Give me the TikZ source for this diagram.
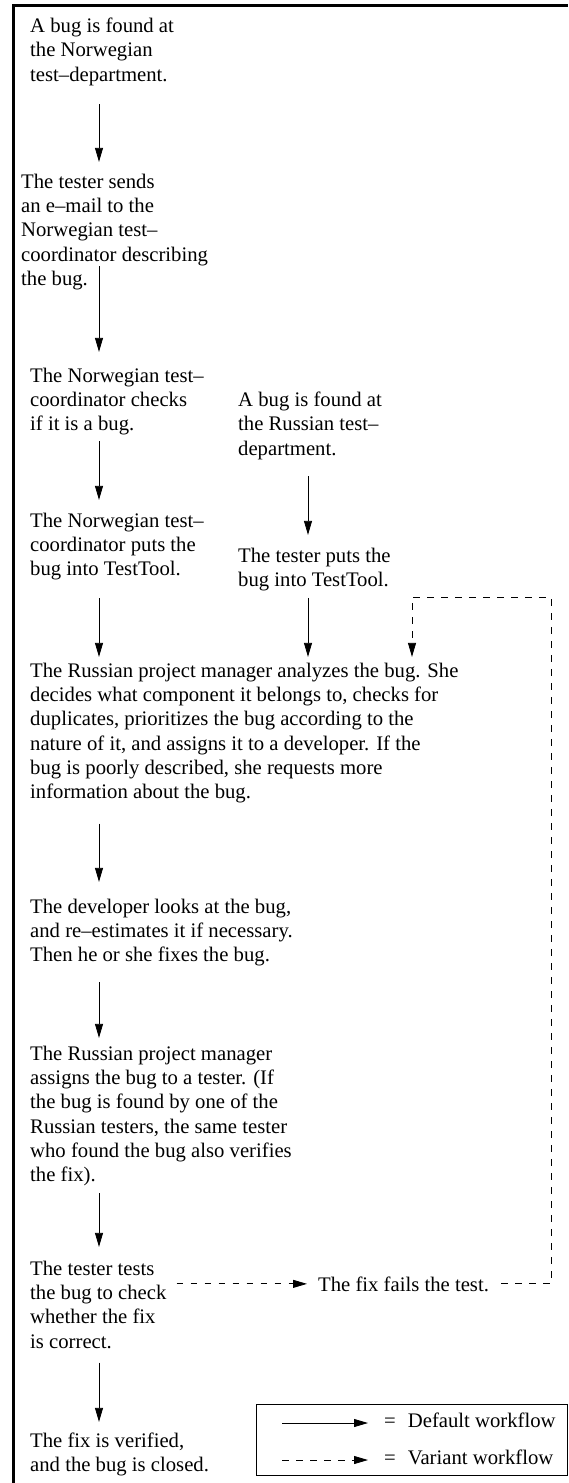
\documentclass[tikz,border=0pt]{standalone}
\usepackage{fontspec}
\setmainfont{Liberation Serif}
\usetikzlibrary{arrows.meta,calc}

\begin{document}
\begin{tikzpicture}[
  x=1pt, y=1pt,
  font=\fontsize{20.7}{24.2}\selectfont,
  txt/.style={anchor=north west, align=left, inner sep=0pt},
  line/.style={anchor=base west, inner sep=0pt},
  flow/.style={-{Triangle[length=14pt,width=8pt]}, line width=0.8pt},
  variant/.style={flow, dash pattern=on 6.5pt off 7.5pt},
  frame/.style={line width=3pt},
  legendbox/.style={draw, line width=0.8pt, inner sep=0pt, anchor=north west,
    minimum width=311pt, minimum height=71pt}
]
\useasboundingbox (0,0) rectangle (568,-1483);

\draw[frame] (13,-1483) -- (13,-5.5) -- (568,-5.5);

\coordinate (spine) at (99,0);
\coordinate (rspine) at (308,0);
\coordinate (drop) at (412,-597);
\coordinate (loopcorner) at (551,-597);

% Norwegian side
\node[txt] (nofound) at (30,-17.9) {A bug is found at\\the Norwegian\\test–department.};
\node[txt] (nomail) at (21,-173.9) {The tester sends\\an e–mail to the\\Norwegian test–\\coordinator describing\\the bug.};
\node[txt] (nocheck) at (30,-367.9) {The Norwegian test–\\coordinator checks\\if it is a bug.};
\node[txt] (noput) at (30,-512.9) {The Norwegian test–\\coordinator puts the\\bug into TestTool.};

% Russian side
\node[txt] (rufound) at (238,-391.9) {A bug is found at\\the Russian test–\\department.};
\node[txt] (ruput) at (238,-547.9) {The tester puts the\\bug into TestTool.};

% common workflow
\node[txt] (analyze) at (30,-662.9) {The Russian project manager analyzes the bug. She\\decides what component it belongs to, checks for\\duplicates, prioritizes the bug according to the\\nature of it, and assigns it to a developer. If the\\bug is poorly described, she requests more\\information about the bug.};
\node[txt] (develop) at (30,-898.9) {The developer looks at the bug,\\and re–estimates it if necessary.\\Then he or she fixes the bug.};
\node[txt] (assign) at (30,-1045.9) {The Russian project manager\\assigns the bug to a tester. (If\\the bug is found by one of the\\Russian testers, the same tester\\who found the bug also verifies\\the fix).};
\node[txt] (retest) at (30,-1260.9) {The tester tests\\the bug to check\\whether the fix\\is correct.};
\node[txt] (closed) at (30,-1432.9) {The fix is verified,\\and the bug is closed.};
\node[line] (fails) at (318,-1291) {The fix fails the test.};

\draw[flow, shorten <=18.5pt, shorten >=12pt] (nofound.south -| spine) -- (nomail.north -| spine);
\draw[flow, shorten <=-23.5pt, shorten >=16pt] (nomail.south -| spine) -- (nocheck.north -| spine);
\draw[flow, shorten <=5.5pt, shorten >=13pt] (nocheck.south -| spine) -- (noput.north -| spine);
\draw[flow, shorten <=17.5pt, shorten >=6pt] (noput.south -| spine) -- (analyze.north -| spine);
\draw[flow, shorten <=16.5pt, shorten >=13pt] (rufound.south -| rspine) -- (ruput.north -| rspine);
\draw[flow, shorten <=6.5pt, shorten >=6pt] (ruput.south -| rspine) -- (analyze.north -| rspine);
\draw[flow, shorten <=20.5pt, shorten >=17pt] (analyze.south -| spine) -- (develop.north -| spine);
\draw[flow, shorten <=15.5pt, shorten >=8pt] (develop.south -| spine) -- (assign.north -| spine);
\draw[flow, shorten <=7pt, shorten >=14pt] (assign.south -| spine) -- (retest.north -| spine);
\draw[flow, shorten <=14pt, shorten >=11pt] (retest.south -| spine) -- (closed.north -| spine);

% variant: failed fix goes back to the project manager
\draw[variant, shorten <=10pt, shorten >=11pt] (retest.east |- fails.west) -- (fails.west);
\draw[variant, shorten <=12pt, shorten >=6pt] (fails.east) -- (fails.east -| loopcorner)
  -- (loopcorner) -- (drop) -- (analyze.north -| drop);

% legend
\node[legendbox] (legend) at (256,-1404) {};
\node[line] (ldefault) at (384,-1427) {=\hspace{12pt}Default workflow};
\node[line] (lvariant) at (384,-1464) {=\hspace{12pt}Variant workflow};
\coordinate (lsolid) at (282,-1423);
\coordinate (ldashed) at (282,-1460);
\draw[flow, shorten >=16pt] (lsolid) -- (lsolid -| ldefault.west);
\draw[variant, shorten >=16pt] (ldashed) -- (ldashed -| lvariant.west);
\end{tikzpicture}
\end{document}
